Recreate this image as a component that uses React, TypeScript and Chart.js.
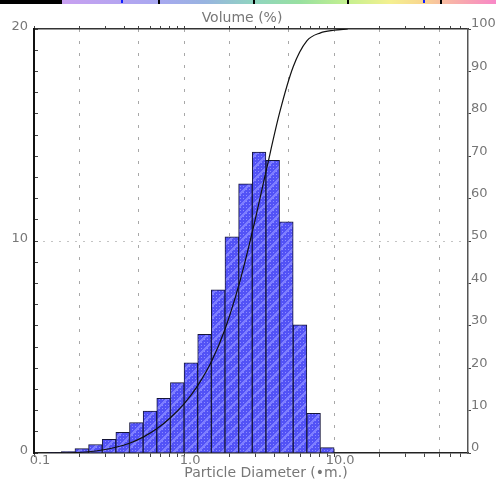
import React, { useEffect, useRef } from 'react';
import { Chart, registerables } from 'chart.js';

Chart.register(...registerables);

// Histogram bins (geometric centres of log-spaced size classes, µm)
const binCenters = [
  0.111, 0.1369, 0.1688, 0.2081, 0.2565, 0.3162, 0.3898, 0.4806, 0.5925, 0.7305, 0.9006,
  1.1103, 1.3688, 1.6874, 2.0803, 2.5645, 3.1623, 3.8985, 4.8058, 5.9248, 7.304, 9.0045,
];
// Volume % per class (left axis)
const volumePct = [
  0, 0.03, 0.07, 0.21, 0.4, 0.64, 0.98, 1.43, 1.98, 2.58, 3.32,
  4.25, 5.6, 7.7, 10.2, 12.7, 14.2, 13.8, 10.9, 6.05, 1.87, 0.25,
];
// Cumulative curve (right axis): upper class edges and cumulative volume %
const cumulativeSizes = [
  0.1233, 0.152, 0.1874, 0.231, 0.2848, 0.3511, 0.4329, 0.5337, 0.6579, 0.8111, 1.0,
  1.233, 1.52, 1.874, 2.31, 2.848, 3.511, 4.329, 5.337, 6.579, 8.111, 10.0, 12.33,
];
const cumulativeVolume = [
  0, 0.03, 0.1, 0.3, 0.7, 1.35, 2.3, 3.75, 5.7, 8.3, 11.6,
  15.9, 21.5, 29.2, 39.4, 52.1, 66.3, 80.2, 91.1, 97.2, 99.1, 99.7, 100,
];

const xMin = 0.1;
const xMax = 78;
const xTickValues = [
  0.1, 0.2, 0.3, 0.4, 0.5, 0.6, 0.7, 0.8, 0.9,
  1, 2, 3, 4, 5, 6, 7, 8, 9,
  10, 20, 30, 40, 50, 60, 70,
];
const xLabelValues = [0.1, 1, 10];
const xLabelTexts = ['0.1', '1.0', '10.0'];
const xGridValues = [0.2, 0.5, 1, 2, 5, 10, 20, 50];
const yLeftLabelValues = [0, 10, 20];
const yLeftGridValues = [10];

const xTitle = 'Particle Diameter (\u2022m.)';
const topTitle = 'Volume (%)';

const FONT = 'DejaVu Sans';
const TEXT = '#777';

function makePattern(ctx: CanvasRenderingContext2D) {
  const c = document.createElement('canvas');
  c.width = 12;
  c.height = 12;
  const g = c.getContext('2d')!;
  g.fillStyle = '#5252f6';
  g.fillRect(0, 0, 12, 12);
  for (let y = 0; y < 12; y++) {
    for (let x = 0; x < 12; x++) {
      const d = (x + y) % 12;
      if (d < 3) {
        g.fillStyle = '#7e7eff';
        g.fillRect(x, y, 1, 1);
      } else if (x % 3 === 0 && y % 3 === 0) {
        g.fillStyle = '#8c8cff';
        g.fillRect(x, y, 1, 1);
      }
    }
  }
  return ctx.createPattern(c, 'repeat')!;
}

const stripPlugin = {
  id: 'strip',
  beforeDraw(chart: any) {
    const { ctx, width } = chart;
    ctx.save();
    ctx.fillStyle = '#000';
    ctx.fillRect(0, 0, 62, 4);
    const x0 = 62;
    const w = width - x0;
    const grad = ctx.createLinearGradient(x0, 0, width, 0);
    const stops: [number, string][] = [
      [62, '#c8a0f0'], [158, '#a8a8f0'], [205, '#98b4e0'], [253, '#90d4c0'],
      [300, '#98e0a0'], [347, '#c4f090'], [390, '#f4f090'], [420, '#f8d890'],
      [440, '#f8c0a0'], [470, '#f8a0b4'], [496, '#f888c8'],
    ];
    stops.forEach(([p, c]) => grad.addColorStop((p - x0) / w, c));
    ctx.fillStyle = grad;
    ctx.fillRect(x0, 0, w, 4);
    ctx.fillStyle = '#000';
    [158, 253, 347, 440].forEach((x) => ctx.fillRect(x, 0, 2, 4));
    ctx.fillStyle = '#1020ff';
    [121, 423].forEach((x) => ctx.fillRect(x, 0, 2, 3));
    ctx.restore();
  },
};

const titlesPlugin = {
  id: 'axisTitles',
  afterDraw(chart: any) {
    const { ctx, chartArea } = chart;
    const cx = (chartArea.left + chartArea.right) / 2;
    ctx.save();
    ctx.font = `14px "${FONT}"`;
    ctx.fillStyle = TEXT;
    ctx.textAlign = 'center';
    ctx.textBaseline = 'middle';
    ctx.fillText(topTitle, cx - 9, chartArea.top - 11);
    ctx.fillText(xTitle, cx + 15, chartArea.bottom + 20);
    ctx.restore();
  },
};

export default function App() {
  const ref = useRef<HTMLCanvasElement>(null);

  useEffect(() => {
    const canvas = ref.current!;
    const ctx = canvas.getContext('2d')!;
    const pattern = makePattern(ctx);
    const tickFont = { family: FONT, size: 13 };

    const chart = new Chart(ctx, {
      type: 'bar',
      data: {
        datasets: [
          {
            type: 'line',
            label: 'Cumulative',
            data: cumulativeSizes.map((x, i) => ({ x, y: cumulativeVolume[i] })),
            xAxisID: 'x',
            yAxisID: 'y2',
            borderColor: '#111',
            borderWidth: 1.2,
            pointRadius: 0,
            fill: false,
            cubicInterpolationMode: 'monotone',
            order: 0,
          } as any,
          {
            type: 'bar',
            label: 'Volume',
            data: binCenters.map((x, i) => ({ x, y: volumePct[i] })),
            xAxisID: 'x',
            yAxisID: 'y',
            backgroundColor: pattern,
            borderColor: '#15153a',
            borderWidth: 1,
            barPercentage: 1,
            categoryPercentage: 1,
            barThickness: 'flex',
            order: 1,
          } as any,
        ],
      },
      options: {
        responsive: false,
        animation: false,
        devicePixelRatio: 1,
        layout: { padding: 0 },
        plugins: {
          legend: { display: false },
          tooltip: { enabled: false },
          title: { display: false },
        },
        scales: {
          x: {
            type: 'logarithmic',
            position: 'bottom',
            min: xMin,
            max: xMax,
            offset: false,
            afterBuildTicks: (s: any) => {
              s.ticks = xTickValues.map((v) => ({ value: v }));
            },
            afterFit: (s: any) => {
              s.height = 32;
            },
            ticks: {
              autoSkip: false,
              maxRotation: 0,
              minRotation: 0,
              padding: -4,
              labelOffset: 6,
              color: TEXT,
              font: tickFont,
              callback: (v: any) => {
                const i = xLabelValues.indexOf(Number(v));
                return i >= 0 ? xLabelTexts[i] : '';
              },
            },
            grid: {
              offset: false,
              color: (c: any) =>
                c.tick && xGridValues.includes(c.tick.value) ? '#a8a8a8' : 'rgba(0,0,0,0)',
              lineWidth: 1,
              tickLength: 4,
              tickColor: '#444',
              tickWidth: 1,
            },
            border: { color: '#222', width: 1.5, dash: [3, 9] },
          } as any,
          x2: {
            type: 'logarithmic',
            position: 'top',
            min: xMin,
            max: xMax,
            offset: false,
            afterBuildTicks: (s: any) => {
              s.ticks = xTickValues.map((v) => ({ value: v }));
            },
            afterFit: (s: any) => {
              s.height = 29;
            },
            ticks: { display: false, autoSkip: false },
            grid: {
              offset: false,
              drawOnChartArea: false,
              tickLength: 3,
              tickColor: '#444',
            },
            border: { color: '#333', width: 1.5 },
          } as any,
          y: {
            type: 'linear',
            position: 'left',
            min: 0,
            max: 20,
            afterFit: (s: any) => {
              s.width = 34;
            },
            ticks: {
              stepSize: 1,
              autoSkip: false,
              padding: 10,
              labelOffset: -2,
              color: TEXT,
              font: tickFont,
              callback: (v: any) => (yLeftLabelValues.includes(Number(v)) ? String(v) : ''),
            },
            grid: {
              color: (c: any) =>
                c.tick && yLeftGridValues.includes(c.tick.value) ? '#c4c4c4' : 'rgba(0,0,0,0)',
              tickLength: -4,
              tickColor: '#444',
            },
            border: { color: '#111', width: 2, dash: [2, 6] },
          } as any,
          y2: {
            type: 'linear',
            position: 'right',
            min: 0,
            max: 100,
            afterFit: (s: any) => {
              s.width = 28;
            },
            ticks: {
              stepSize: 10,
              autoSkip: false,
              padding: 0,
              labelOffset: -5,
              color: TEXT,
              font: tickFont,
            },
            grid: {
              drawOnChartArea: false,
              tickLength: 3,
              tickColor: '#444',
            },
            border: { color: '#555', width: 1.5 },
          } as any,
        },
      },
      plugins: [stripPlugin, titlesPlugin],
    });

    return () => chart.destroy();
  }, []);

  return (
    <div
      style={{
        position: 'absolute',
        left: 0,
        top: 0,
        width: 496,
        height: 485,
        background: '#fff',
      }}
    >
      <canvas ref={ref} width={496} height={485} style={{ display: 'block', width: 496, height: 485 }} />
    </div>
  );
}
